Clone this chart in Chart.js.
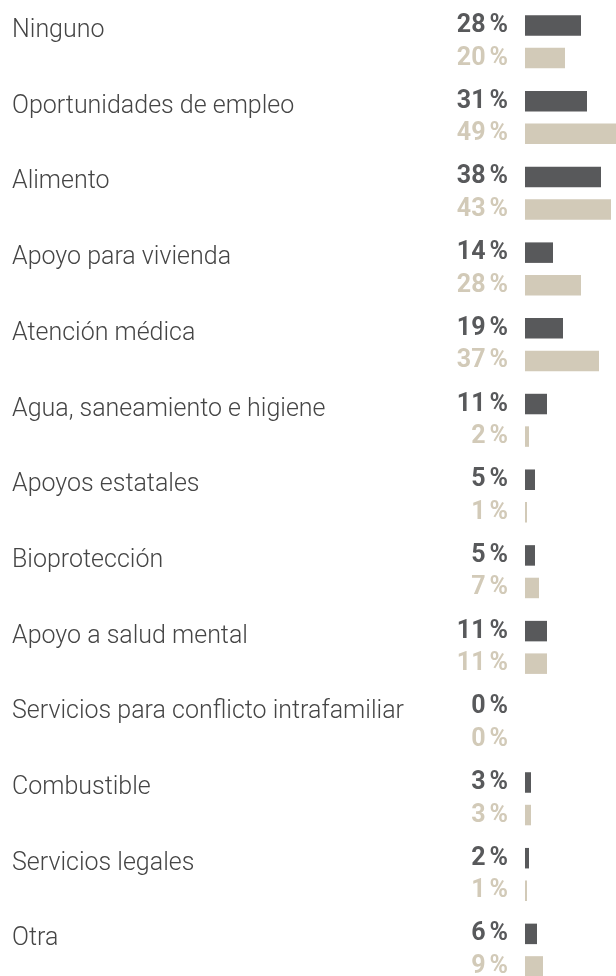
<!DOCTYPE html>
<html lang="es">
<head>
<meta charset="utf-8">
<title>Necesidades</title>
<script src="https://cdn.jsdelivr.net/npm/chart.js@4/dist/chart.umd.min.js"></script>
<style>
  html, body { margin: 0; padding: 0; background: #fff; overflow: hidden; }
  #needsChart { position: absolute; left: 0; top: 0; }
</style>
</head>
<body>
<canvas id="needsChart" width="640" height="990"></canvas>
<script>
// Categorías y valores (%) de las dos series
const categories = [
    "Ninguno",
    "Oportunidades de empleo",
    "Alimento",
    "Apoyo para vivienda",
    "Atención médica",
    "Agua, saneamiento e higiene",
    "Apoyos estatales",
    "Bioprotección",
    "Apoyo a salud mental",
    "Servicios para conflicto intrafamiliar",
    "Combustible",
    "Servicios legales",
    "Otra"
];
const seriesA = [28, 31, 38, 14, 19, 11, 5, 5, 11, 0, 3, 2, 6];
const seriesB = [20, 49, 43, 28, 37, 2, 1, 7, 11, 0, 3, 1, 9];

const darkColor = '#58595b';
const beigeColor = '#d2cab8';

// Dibuja "NN %" alineado a la derecha, con un pequeño espacio antes de %
function drawPercent(ctx, value, x, y, color) {
    ctx.fillStyle = color;
    ctx.textAlign = 'right';
    ctx.fillText('%', x, y);
    const w = ctx.measureText('%').width;
    ctx.fillText(String(value), x - w - 4, y);
}

// Plugin para dibujar etiquetas de categoría y porcentajes
const labelPlugin = {
    id: 'labelPlugin',
    afterDatasetsDraw(chart) {
        const ctx = chart.ctx;
        const metaA = chart.getDatasetMeta(0);
        const metaB = chart.getDatasetMeta(1);
        ctx.save();
        ctx.textBaseline = 'alphabetic';
        categories.forEach((name, i) => {
            const yA = metaA.data[i].y;
            const yB = metaB.data[i].y;

            // Nombre de la categoría
            ctx.font = '300 25px Roboto';
            ctx.fillStyle = '#454545';
            ctx.textAlign = 'left';
            ctx.fillText(name, 12, yA + 11.5);

            // Porcentajes
            ctx.font = 'bold 25px Roboto';
            drawPercent(ctx, seriesA[i], 508, yA + 6.5, darkColor);
            drawPercent(ctx, seriesB[i], 508, yB + 6.5, beigeColor);
        });
        ctx.restore();
    }
};

const ctx = document.getElementById('needsChart').getContext('2d');
const needsChart = new Chart(ctx, {
    type: 'bar',
    data: {
        labels: categories,
        datasets: [
            {
                label: 'Serie A',
                data: seriesA,
                backgroundColor: darkColor,
                borderWidth: 0
            },
            {
                label: 'Serie B',
                data: seriesB,
                backgroundColor: beigeColor,
                borderWidth: 0
            }
        ]
    },
    options: {
        indexAxis: 'y',
        responsive: false,
        animation: false,
        categoryPercentage: 0.86,
        barPercentage: 0.63,
        layout: {
            padding: { left: 525, right: 15, top: 4, bottom: 2 }
        },
        scales: {
            x: { display: false, min: 0, max: 50 },
            y: { display: false }
        },
        plugins: {
            legend: { display: false },
            tooltip: { enabled: false }
        }
    },
    plugins: [labelPlugin]
});
</script>
</body>
</html>
